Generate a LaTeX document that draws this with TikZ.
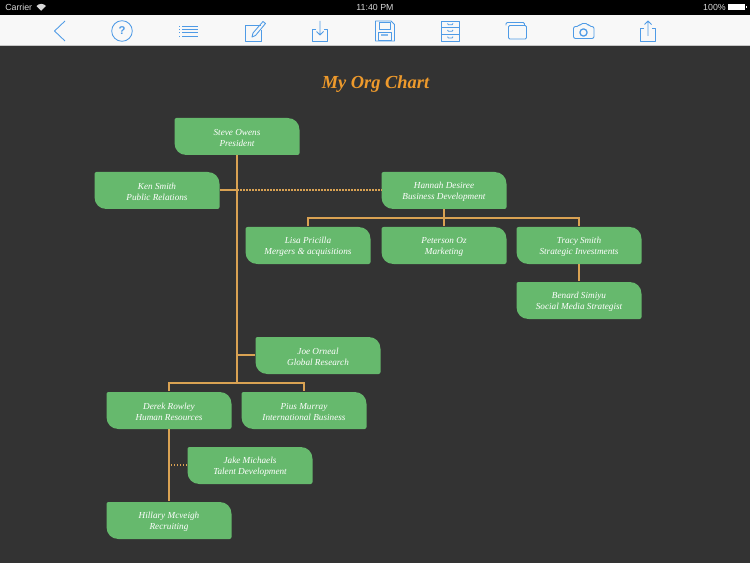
\documentclass[tikz,border=0pt]{standalone}
\usepackage{fontspec}
\setmainfont{Liberation Serif}
\newfontfamily\uifont{Liberation Sans}
\newfontfamily\titlefont{Liberation Serif}
\definecolor{bgdark}{HTML}{333333}
\definecolor{boxgreen}{HTML}{66B96D}
\definecolor{linkgold}{HTML}{D9A253}
\definecolor{titleorange}{HTML}{EE9A2C}
\definecolor{barwhite}{HTML}{F8F8F8}
\definecolor{iconblue}{HTML}{4F9BE6}
\tikzset{
  orgframe/.style={minimum width=93.75pt,minimum height=27.75pt,inner sep=0pt},
  orgtext/.style={inner sep=0pt,align=center,text=white,yshift=-1.5pt,
    font=\fontsize{6.9}{8.25}\selectfont\itshape},
  link/.style={draw=linkgold,line width=1.4pt},
  dotlink/.style={draw=linkgold,line width=1.4pt,dash pattern=on 1.125pt off 1.125pt},
  icon/.style={draw=iconblue,line width=0.65pt,fill=none,line join=round},
  statustext/.style={text=white!85!black,inner sep=0pt,font=\uifont\fontsize{6.6}{7}\selectfont},
}
\newcommand{\orgbox}[4]{% name, cx, cy, text
  \fill[boxgreen,yshift=-0.375pt]
    ({#2-60.5},{#3-18.5}) -- ({#2+50.5},{#3-18.5})
    .. controls ({#2+57.5},{#3-18.5}) and ({#2+62.5},{#3-13.5}) .. ({#2+62.5},{#3-6.5})
    -- ({#2+62.5},{#3+16.5})
    .. controls ({#2+62.5},{#3+17.6}) and ({#2+61.6},{#3+18.5}) .. ({#2+60.5},{#3+18.5})
    -- ({#2-50.5},{#3+18.5})
    .. controls ({#2-57.5},{#3+18.5}) and ({#2-62.5},{#3+13.5}) .. ({#2-62.5},{#3+6.5})
    -- ({#2-62.5},{#3-16.5})
    .. controls ({#2-62.5},{#3-17.6}) and ({#2-61.6},{#3-18.5}) .. ({#2-60.5},{#3-18.5})
    -- cycle;
  \node[orgframe] (#1) at (#2,#3) {};
  \node[orgtext] (#1label) at (#2,#3) {#4};
}
\begin{document}
\begin{tikzpicture}[x=0.75pt,y=-0.75pt]
\useasboundingbox (0,0) rectangle (750,563);
\fill[bgdark] (0,0) rectangle (750,563);
\fill[black] (0,0) rectangle (750,15);
\fill[barwhite] (0,15) rectangle (750,46);
\fill[black!22] (0,45.5) rectangle (750,46.5);
% status bar
\node[statustext,anchor=west] (carrier) at (5,7.5) {Carrier};
\fill[white!85!black] (36.5,6) .. controls (39,3.2) and (43.5,3.2) .. (46,6) -- (41.2,10.8) -- cycle;
\node[statustext] (clock) at (375,7.5) {11:40 PM};
\node[statustext,anchor=east] (battery) at (726,7.5) {100\%};
\fill[white] (728,4.5) rectangle (745,10.5);
\fill[white] (745.5,6.5) rectangle (746.8,8.5);
% toolbar icons
\draw[icon] (65,21) -- (54.5,31) -- (65,41);
\draw[icon] (122,31) circle (10.3);
\node[text=iconblue,inner sep=0pt,font=\uifont\bfseries\fontsize{8.5}{9}\selectfont] (help) at (122,31) {?};
\foreach \yy in {26,29.3,32.6,36}{
  \draw[icon] (182,\yy) -- (198,\yy);
  \draw[icon] (179,\yy) -- (180.2,\yy);
}
\draw[icon] (261,25) -- (245,25) -- (245,41) -- (261,41) -- (261,30);
\draw[icon] (252,37) -- (253,33) -- (263,21.5) -- (265.5,23.5) -- (255.5,35.5) -- cycle;
\draw[icon] (316,29) -- (312.5,29) -- (312.5,41) -- (327.5,41) -- (327.5,29) -- (324,29);
\draw[icon] (320,21) -- (320,35) (316.5,31.5) -- (320,35) -- (323.5,31.5);
\draw[icon] (375.5,21) -- (391,21) -- (394.5,24.5) -- (394.5,41) -- (375.5,41) -- cycle;
\draw[icon] (379,22) rectangle (390,29);
\draw[icon] (378.5,32) rectangle (391.5,40.5);
\fill[iconblue!70] (381,34) rectangle (388,36);
\draw[icon] (441.5,21) rectangle (459,41);
\draw[icon] (441.5,27.7) -- (459,27.7) (441.5,34.3) -- (459,34.3);
\draw[icon] (447.5,23.5) -- (448.5,24.8) -- (452,24.8) -- (453,23.5);
\draw[icon] (447.5,30) -- (448.5,31.3) -- (452,31.3) -- (453,30);
\draw[icon] (447.5,36.7) -- (448.5,38) -- (452,38) -- (453,36.7);
\draw[icon,rounded corners=1pt] (508.5,25.5) rectangle (526.5,39);
\draw[icon,rounded corners=1pt] (506,25.5) -- (506,22.5) -- (524.5,22.5) -- (524.5,25.5);
\draw[icon,rounded corners=1.5pt] (573.5,26.5) -- (579,26.5) -- (580.5,23.5) -- (588,23.5) -- (589,26.5) -- (594,26.5) -- (594,38.5) -- (573.5,38.5) -- cycle;
\draw[icon,line width=1pt] (583.5,32.5) circle (3.6);
\draw[icon] (644,28) -- (640.5,28) -- (640.5,41) -- (655.5,41) -- (655.5,28) -- (652,28);
\draw[icon] (648,36) -- (648,21) (644.5,24.5) -- (648,21) -- (651.5,24.5);
% title
\node[text=titleorange,inner sep=0pt,font=\titlefont\bfseries\itshape\fontsize{13.8}{14}\selectfont] (title) at (375.5,84) {My Org Chart};
% connector coordinates
\coordinate (trunkken) at (237,190);
\coordinate (trunkjoe) at (237,355);
\coordinate (trunkend) at (237,383);
\coordinate (busleft) at (169,383);
\coordinate (busright) at (304,383);
\coordinate (hbus) at (444,218);
\coordinate (hleft) at (308,218);
\coordinate (hright) at (579,218);
\coordinate (jakeend) at (171,465);
% boxes
\orgbox{steve}{237}{136}{Steve Owens\\President}
\orgbox{ken}{157}{190}{Ken Smith\\Public Relations}
\orgbox{hannah}{444}{190}{Hannah Desiree\\Business Development}
\orgbox{lisa}{308}{245}{Lisa Pricilla\\Mergers \& acquisitions}
\orgbox{peterson}{444}{245}{Peterson Oz\\Marketing}
\orgbox{tracy}{579}{245}{Tracy Smith\\Strategic Investments}
\orgbox{benard}{579}{300}{Benard Simiyu\\Social Media Strategist}
\orgbox{joe}{318}{355}{Joe Orneal\\Global Research}
\orgbox{derek}{169}{410}{Derek Rowley\\Human Resources}
\orgbox{pius}{304}{410}{Pius Murray\\International Business}
\orgbox{jake}{250}{465}{Jake Michaels\\Talent Development}
\orgbox{hillary}{169}{520}{Hillary Mcveigh\\Recruiting}
% connectors
\draw[link] (steve.south) -- (trunkend);
\draw[link] (ken.east) -- (trunkken);
\draw[dotlink] (trunkken) -- (hannah.west);
\draw[link] (joe.west) -- (trunkjoe);
\draw[link] (derek.north) -- (busleft) -- (busright) -- (pius.north);
\draw[link] (hannah.south) -- (hbus);
\draw[link] (lisa.north) -- (hleft) -- (hright) -- (tracy.north);
\draw[link] (peterson.north) -- (hbus);
\draw[link] (tracy.south) -- (benard.north);
\draw[link] (derek.south) -- (hillary.north);
\draw[dotlink] (jake.west) -- (jakeend);
\end{tikzpicture}
\end{document}
